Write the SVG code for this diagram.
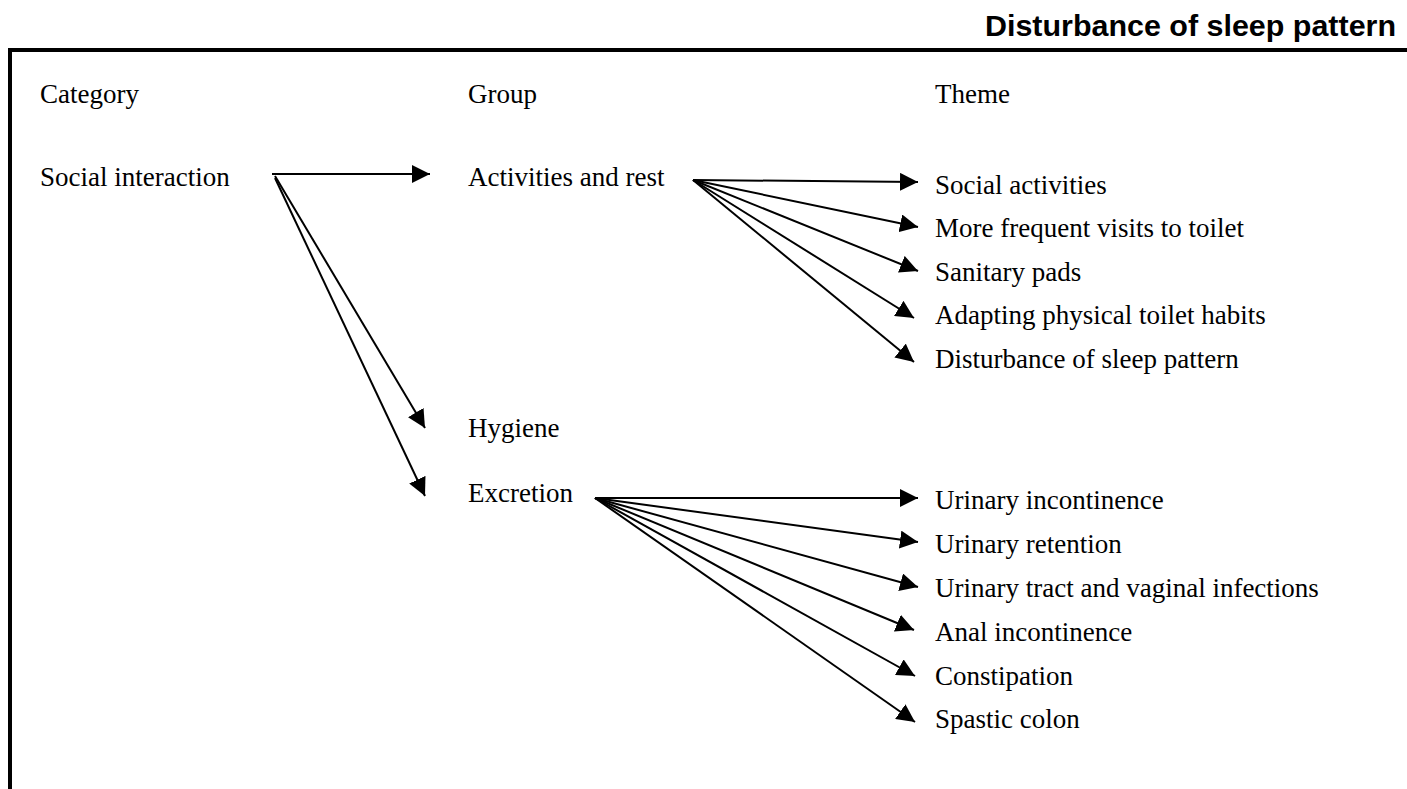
<svg xmlns="http://www.w3.org/2000/svg" width="1407" height="789" viewBox="0 0 1407 789">
  <style>
    .t { font-family: "Liberation Serif", "Times New Roman", serif; font-size: 27px; fill: #000; }
    .h { font-family: "Liberation Sans Narrow", "Liberation Sans", Arial, sans-serif; font-size: 30px; font-weight: bold; fill: #000; }
    .c { stroke: #000; stroke-width: 2; fill: none; marker-end: url(#arr); }
    .frame { stroke: #000; stroke-width: 4; fill: none; }
  </style>
  <defs>
    <marker id="arr" viewBox="0 0 16 16" refX="16" refY="8" markerWidth="18" markerHeight="18" markerUnits="userSpaceOnUse" orient="auto">
      <path d="M0,0 L16,8 L0,16 z" fill="#000"/>
    </marker>
  </defs>
  <rect width="1407" height="789" fill="#fff"/>
  <text class="h" x="985" y="36" textLength="411" lengthAdjust="spacingAndGlyphs">Disturbance of sleep pattern</text>
  <path class="frame" d="M10,789 L10,50 L1407,50"/>

  <g id="col-category"><text class="t" x="40" y="103">Category</text></g>
  <g id="col-group"><text class="t" x="468" y="103">Group</text></g>
  <g id="col-theme"><text class="t" x="935" y="103">Theme</text></g>

  <g id="social-interaction"><text class="t" x="40" y="186">Social interaction</text></g>
  <g id="activities-and-rest"><text class="t" x="468" y="186">Activities and rest</text></g>
  <g id="hygiene"><text class="t" x="468" y="437">Hygiene</text></g>
  <g id="excretion"><text class="t" x="468" y="502">Excretion</text></g>

  <g id="social-activities"><text class="t" x="935" y="194">Social activities</text></g>
  <g id="more-frequent-visits"><text class="t" x="935" y="237">More frequent visits to toilet</text></g>
  <g id="sanitary-pads"><text class="t" x="935" y="281">Sanitary pads</text></g>
  <g id="adapting-toilet-habits"><text class="t" x="935" y="324">Adapting physical toilet habits</text></g>
  <g id="disturbance-sleep"><text class="t" x="935" y="368">Disturbance of sleep pattern</text></g>

  <g id="urinary-incontinence"><text class="t" x="935" y="509">Urinary incontinence</text></g>
  <g id="urinary-retention"><text class="t" x="935" y="553">Urinary retention</text></g>
  <g id="urinary-infections"><text class="t" x="935" y="597">Urinary tract and vaginal infections</text></g>
  <g id="anal-incontinence"><text class="t" x="935" y="641">Anal incontinence</text></g>
  <g id="constipation"><text class="t" x="935" y="685">Constipation</text></g>
  <g id="spastic-colon"><text class="t" x="935" y="728">Spastic colon</text></g>

  <g id="connectors">
    <line class="c" x1="272" y1="174" x2="430" y2="174"/>
    <line class="c" x1="275" y1="176" x2="425" y2="428"/>
    <line class="c" x1="275" y1="178" x2="425" y2="496"/>

    <line class="c" x1="693" y1="180" x2="918" y2="182"/>
    <line class="c" x1="693" y1="180" x2="918" y2="227"/>
    <line class="c" x1="693" y1="180" x2="918" y2="271"/>
    <line class="c" x1="693" y1="180" x2="914" y2="318"/>
    <line class="c" x1="693" y1="180" x2="914" y2="362"/>

    <line class="c" x1="595" y1="498" x2="918" y2="498"/>
    <line class="c" x1="595" y1="498" x2="918" y2="542"/>
    <line class="c" x1="595" y1="498" x2="918" y2="587"/>
    <line class="c" x1="595" y1="498" x2="914" y2="630"/>
    <line class="c" x1="595" y1="498" x2="915" y2="676"/>
    <line class="c" x1="595" y1="498" x2="915" y2="722"/>
  </g>
</svg>
